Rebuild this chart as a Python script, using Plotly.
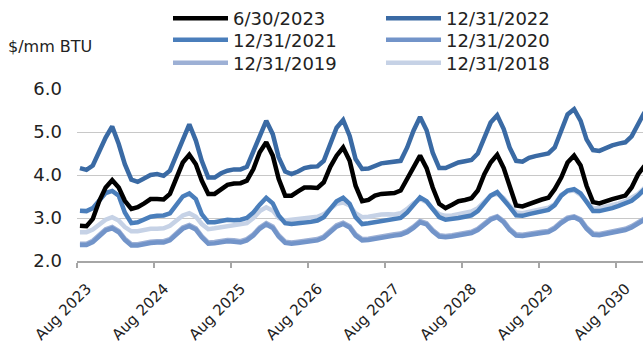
import pandas as pd
import plotly.graph_objects as go

# Monthly categories: Aug 2023 .. Dec 2030
months = pd.date_range("2023-08-01", "2030-12-01", freq="MS")

s_2023_06 = [2.82, 2.81, 2.98, 3.40, 3.71, 3.88, 3.71, 3.40, 3.21, 3.25, 3.34, 3.44,
             3.44, 3.43, 3.56, 3.95, 4.29, 4.47, 4.25, 3.87, 3.56, 3.56, 3.67, 3.77,
             3.80, 3.81, 3.87, 4.14, 4.53, 4.76, 4.45, 3.91, 3.52, 3.52, 3.62, 3.71,
             3.71, 3.70, 3.83, 4.19, 4.45, 4.64, 4.33, 3.75, 3.39, 3.42, 3.52, 3.56,
             3.57, 3.58, 3.64, 3.91, 4.22, 4.45, 4.16, 3.71, 3.33, 3.23, 3.31, 3.39,
             3.42, 3.46, 3.64, 4.02, 4.29, 4.47, 4.16, 3.71, 3.29, 3.27, 3.33, 3.39,
             3.43, 3.47, 3.67, 3.94, 4.29, 4.45, 4.22, 3.75, 3.37, 3.34, 3.40, 3.44,
             3.48, 3.52, 3.71, 4.02, 4.21]

s_2022 = [4.16, 4.12, 4.22, 4.56, 4.87, 5.13, 4.72, 4.25, 3.89, 3.84, 3.93, 4.00,
          4.02, 3.98, 4.10, 4.45, 4.83, 5.18, 4.80, 4.33, 3.94, 3.94, 4.04, 4.10,
          4.13, 4.13, 4.19, 4.53, 4.91, 5.26, 4.95, 4.41, 4.08, 4.02, 4.08, 4.16,
          4.19, 4.20, 4.33, 4.76, 5.10, 5.28, 4.91, 4.37, 4.14, 4.15, 4.22, 4.27,
          4.29, 4.30, 4.33, 4.64, 5.03, 5.35, 5.04, 4.52, 4.16, 4.16, 4.22, 4.29,
          4.32, 4.35, 4.50, 4.87, 5.22, 5.39, 5.07, 4.64, 4.33, 4.31, 4.40, 4.44,
          4.47, 4.50, 4.64, 5.03, 5.41, 5.53, 5.26, 4.83, 4.58, 4.56, 4.63, 4.69,
          4.73, 4.76, 4.90, 5.20, 5.46]

s_2021 = [3.17, 3.16, 3.23, 3.42, 3.58, 3.63, 3.52, 3.13, 2.88, 2.90, 2.98, 3.03,
          3.05, 3.06, 3.11, 3.33, 3.50, 3.57, 3.44, 3.09, 2.90, 2.90, 2.94, 2.96,
          2.95, 2.96, 3.00, 3.13, 3.31, 3.47, 3.34, 3.06, 2.88, 2.86, 2.88, 2.89,
          2.91, 2.94, 3.02, 3.21, 3.39, 3.47, 3.33, 3.02, 2.86, 2.88, 2.90, 2.92,
          2.94, 2.96, 3.00, 3.13, 3.31, 3.48, 3.39, 3.21, 3.02, 2.96, 2.97, 3.00,
          3.03, 3.06, 3.16, 3.34, 3.52, 3.60, 3.44, 3.26, 3.06, 3.05, 3.09, 3.12,
          3.15, 3.19, 3.30, 3.52, 3.64, 3.67, 3.57, 3.37, 3.16, 3.16, 3.19, 3.23,
          3.28, 3.33, 3.40, 3.52, 3.67]

s_2020 = [2.37, 2.37, 2.44, 2.57, 2.71, 2.76, 2.67, 2.49, 2.36, 2.36, 2.40, 2.42,
          2.43, 2.43, 2.48, 2.61, 2.75, 2.81, 2.73, 2.55, 2.40, 2.41, 2.44, 2.46,
          2.45, 2.43, 2.48, 2.59, 2.75, 2.85, 2.77, 2.57, 2.42, 2.40, 2.42, 2.44,
          2.46, 2.48, 2.54, 2.67, 2.80, 2.86, 2.78, 2.59, 2.48, 2.49, 2.52, 2.55,
          2.58, 2.59, 2.61, 2.67, 2.77, 2.90, 2.85, 2.69, 2.57, 2.55, 2.57, 2.59,
          2.61, 2.65, 2.72, 2.85, 2.96, 3.02, 2.90, 2.72, 2.59, 2.58, 2.61, 2.64,
          2.65, 2.67, 2.75, 2.88, 2.98, 3.02, 2.94, 2.75, 2.61, 2.60, 2.63, 2.67,
          2.69, 2.72, 2.78, 2.86, 2.96]

s_2019 = [2.40, 2.40, 2.47, 2.60, 2.74, 2.79, 2.70, 2.52, 2.39, 2.39, 2.43, 2.45,
          2.46, 2.46, 2.51, 2.64, 2.78, 2.84, 2.76, 2.58, 2.43, 2.44, 2.47, 2.49,
          2.48, 2.46, 2.51, 2.62, 2.78, 2.88, 2.80, 2.60, 2.45, 2.43, 2.45, 2.47,
          2.49, 2.51, 2.57, 2.70, 2.83, 2.89, 2.81, 2.62, 2.51, 2.52, 2.55, 2.58,
          2.61, 2.62, 2.64, 2.70, 2.80, 2.93, 2.88, 2.72, 2.60, 2.58, 2.60, 2.62,
          2.64, 2.68, 2.75, 2.88, 2.99, 3.04, 2.93, 2.75, 2.62, 2.61, 2.64, 2.67,
          2.68, 2.70, 2.78, 2.91, 3.01, 3.04, 2.97, 2.78, 2.64, 2.63, 2.66, 2.70,
          2.72, 2.75, 2.81, 2.89, 2.99]

s_2018 = [2.67, 2.67, 2.73, 2.85, 2.96, 3.02, 2.94, 2.79, 2.69, 2.69, 2.72, 2.75,
          2.75, 2.76, 2.82, 2.94, 3.06, 3.11, 3.03, 2.86, 2.74, 2.76, 2.78, 2.80,
          2.82, 2.84, 2.88, 3.00, 3.16, 3.25, 3.17, 3.00, 2.94, 2.96, 2.98, 3.00,
          3.02, 3.03, 3.09, 3.21, 3.33, 3.36, 3.29, 3.11, 3.02, 3.03, 3.06, 3.08,
          3.09, 3.08, 3.11, 3.21, 3.34, 3.44, 3.37, 3.21, 3.09, 3.05, 3.06, 3.09,
          3.12, 3.15, 3.23, 3.39, 3.52, 3.57, 3.46, 3.29, 3.13, 3.11, 3.14, 3.18,
          3.21, 3.24, 3.32, 3.54, 3.62, 3.64, 3.54, 3.39, 3.22, 3.23, 3.26, 3.30,
          3.34, 3.39, 3.46, 3.56, 3.70]

tick_dates = pd.date_range("2023-08-01", "2030-08-01", freq="12MS")
tick_labels = [d.strftime("%b %Y") for d in tick_dates]
y_ticks = [2.0, 3.0, 4.0, 5.0, 6.0]

# points sit in the middle of each month (Excel date-axis style)
xvals = months + pd.Timedelta(days=14)

# (name, values, colour, legend row, column)
series = [
    ("12/31/2018", s_2018, "#c6d2e6", "legend3", 2),
    ("12/31/2019", s_2019, "#9db0d5", "legend3", 1),
    ("12/31/2020", s_2020, "#7294c9", "legend2", 2),
    ("12/31/2021", s_2021, "#4a7ebb", "legend2", 1),
    ("12/31/2022", s_2022, "#3a6aa4", "legend", 2),
    ("6/30/2023", s_2023_06, "#000000", "legend", 1),
]

fig = go.Figure()
for name, vals, color, lg, rank in series:
    fig.add_trace(go.Scatter(
        x=xvals, y=vals, mode="lines", name=name,
        line=dict(color=color, width=4.5),
        legend=lg, legendrank=rank,
    ))

FONT = "DejaVu Sans"
W, H = 643, 350
L, R, T, B = 77, 0, 88, 89
pw, ph = W - L - R, H - T - B

def px_x(px):
    return (px - L) / pw

def px_y(py):
    return (H - B - py) / ph

legend_common = dict(
    font=dict(family=FONT, size=18, color="#222222"),
    bgcolor="rgba(0,0,0,0)", orientation="h", tracegroupgap=0,
    xanchor="left", yanchor="top", itemwidth=55,
    entrywidth=143, entrywidthmode="pixels",
)

row_tops = [-2, 21.5, 44.5]
fig.update_layout(
    width=W, height=H,
    margin=dict(l=L, r=R, t=T, b=B),
    paper_bgcolor="white", plot_bgcolor="white",
    showlegend=True,
    legend=dict(x=px_x(168), y=px_y(row_tops[0]), **legend_common),
    legend2=dict(x=px_x(168), y=px_y(row_tops[1]), **legend_common),
    legend3=dict(x=px_x(168), y=px_y(row_tops[2]), **legend_common),
    xaxis=dict(
        type="date",
        range=[pd.Timestamp("2023-08-01"), pd.Timestamp("2030-12-08")],
        tickvals=tick_dates, ticktext=tick_labels, tickangle=-45,
        ticks="outside", ticklen=5, tickwidth=2, tickcolor="#a6a6a6",
        showline=True, linecolor="#a6a6a6", linewidth=2,
        showgrid=False, zeroline=False, ticklabelstandoff=6,
        ticklabelshift=10,
        tickfont=dict(family=FONT, size=15, color="#222222"),
    ),
    yaxis=dict(
        range=[2, 6], tickvals=y_ticks, tickformat=".1f",
        showgrid=True, gridcolor="#c8c8c8", gridwidth=1,
        zeroline=False, showline=False, ticks="",
        ticklabelstandoff=14,
        tickfont=dict(family=FONT, size=18, color="#222222"),
    ),
    annotations=[dict(
        text="$/mm BTU", xref="paper", yref="paper",
        x=px_x(6), y=px_y(45), xanchor="left", yanchor="middle",
        showarrow=False, font=dict(family=FONT, size=16, color="#222222"),
    )],
)

fig.write_html("out.html")
